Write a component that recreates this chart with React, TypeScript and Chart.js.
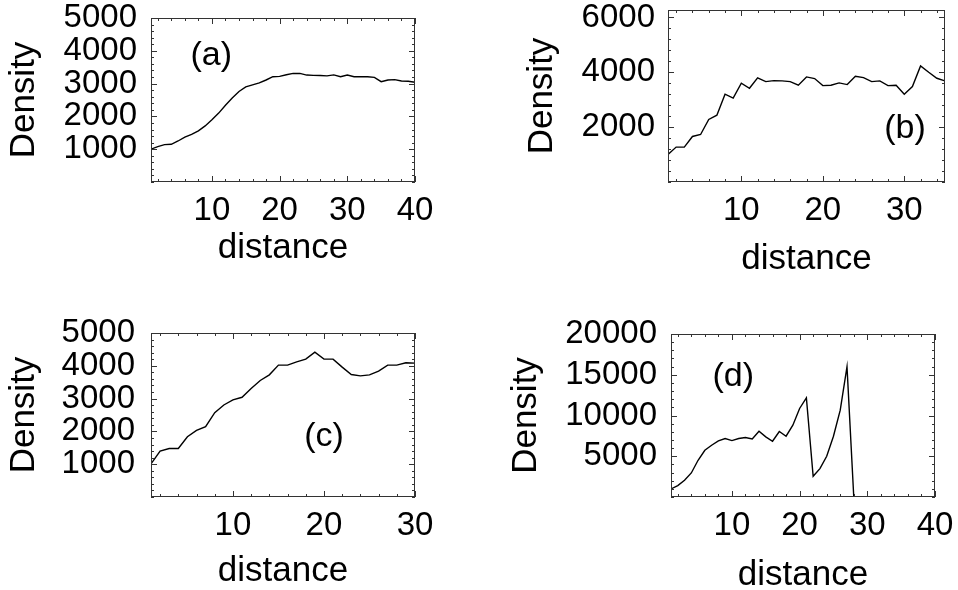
import React, { useEffect, useRef } from "react";
import { Chart, registerables } from "chart.js";
Chart.register(...registerables);

// ---------- data ----------
const distA = [1, 2, 3, 4, 5, 6, 7, 8, 9, 10, 11, 12, 13, 14, 15, 16, 17, 18, 19, 20, 21, 22, 23, 24, 25, 26, 27, 28, 29, 30, 31, 32, 33, 34, 35, 36, 37, 38, 39, 40];
const densityA = [1000, 1080, 1140, 1150, 1250, 1370, 1450, 1560, 1710, 1900, 2100, 2340, 2560, 2760, 2900, 2960, 3020, 3110, 3210, 3220, 3270, 3310, 3310, 3260, 3250, 3245, 3235, 3265, 3210, 3260, 3210, 3210, 3210, 3190, 3060, 3110, 3120, 3080, 3070, 3040];

const distB = [1, 2, 3, 4, 5, 6, 7, 8, 9, 10, 11, 12, 13, 14, 15, 16, 17, 18, 19, 20, 21, 22, 23, 24, 25, 26, 27, 28, 29, 30, 31, 32, 33, 34, 35];
const densityB = [1006, 1273, 1273, 1660, 1733, 2279, 2436, 3200, 3055, 3600, 3418, 3794, 3660, 3697, 3685, 3660, 3527, 3830, 3770, 3515, 3527, 3612, 3551, 3854, 3806, 3660, 3685, 3515, 3527, 3200, 3479, 4230, 4000, 3782, 3685];

const distC = [1, 2, 3, 4, 5, 6, 7, 8, 9, 10, 11, 12, 13, 14, 15, 16, 17, 18, 19, 20, 21, 22, 23, 24, 25, 26, 27, 28, 29, 30];
const densityC = [1010, 1398, 1480, 1480, 1837, 2030, 2143, 2571, 2806, 2959, 3041, 3306, 3551, 3724, 4020, 4020, 4122, 4204, 4418, 4204, 4204, 3959, 3735, 3694, 3724, 3837, 4020, 4020, 4092, 4082];

const distD = [1, 2, 3, 4, 5, 6, 7, 8, 9, 10, 11, 12, 13, 14, 15, 16, 17, 18, 19, 20, 21, 22, 23, 24, 25, 26, 27, 28, 29, 30, 31, 32, 33, 34, 35, 36, 37, 38, 39, 40];
const densityD = [984, 1393, 2049, 2950, 4508, 5737, 6352, 6885, 7172, 6926, 7172, 7295, 7131, 8073, 7377, 6844, 8032, 7459, 8811, 10860, 12171, 2541, 3483, 5000, 7459, 10655, 15982, 0, 0, 0, 0, 0, 0, 0, 0, 0, 0, 0, 0, 0];

const xTicksA = [10, 20, 30, 40];
const xTicksB = [10, 20, 30];
const xTicksC = [10, 20, 30];
const xTicksD = [10, 20, 30, 40];

const yTicksA = [1000, 2000, 3000, 4000, 5000];
const yTicksB = [2000, 4000, 6000];
const yTicksC = [1000, 2000, 3000, 4000, 5000];
const yTicksD = [5000, 10000, 15000, 20000];

const panelLabels = ["(a)", "(b)", "(c)", "(d)"];
const labelPosA = [9.9, 3840];
const labelPosB = [30.1, 1930];
const labelPosC = [20.0, 1830];
const labelPosD = [10.2, 14720];

const xTitle = "distance";
const yTitle = "Density";

// ---------- drawing helpers ----------
const FONT = "'Liberation Sans', Arial, Helvetica, sans-serif";

const framePlugin = {
  id: "frame",
  afterDatasetsDraw(chart: any, _args: any, opts: any) {
    const { ctx, chartArea } = chart;
    const { left, right, top, bottom } = chartArea;
    const xs = chart.scales.x;
    const ys = chart.scales.y;
    ctx.save();
    ctx.strokeStyle = "#333";
    ctx.lineWidth = 1;
    ctx.strokeRect(left + 0.5, top + 0.5, right - left - 1, bottom - top - 1);

    const drawTicks = (scale: any, step: number, majors: number[], horiz: boolean) => {
      const start = Math.ceil(scale.min / step) * step;
      for (let v = start; v <= scale.max + 1e-9; v += step) {
        const major = majors.indexOf(v) >= 0;
        const len = major ? 6 : 3;
        const p = Math.round(scale.getPixelForValue(v)) + 0.5;
        ctx.beginPath();
        if (horiz) {
          ctx.moveTo(p, bottom);
          ctx.lineTo(p, bottom - len);
          ctx.moveTo(p, top);
          ctx.lineTo(p, top + len);
        } else {
          ctx.moveTo(left, p);
          ctx.lineTo(left + len, p);
          ctx.moveTo(right, p);
          ctx.lineTo(right - len, p);
        }
        ctx.stroke();
      }
    };
    drawTicks(xs, opts.xMinor, opts.xMajor, true);
    drawTicks(ys, opts.yMinor, opts.yMajor, false);

    ctx.fillStyle = "#000";
    ctx.font = `34px ${FONT}`;
    ctx.textAlign = "center";
    ctx.textBaseline = "middle";
    ctx.fillText(opts.label, xs.getPixelForValue(opts.labelPos[0]), ys.getPixelForValue(opts.labelPos[1]));
    ctx.restore();
  },
};

type PanelProps = {
  xs: number[];
  ys: number[];
  xTicks: number[];
  yTicks: number[];
  xMax: number;
  yMax: number;
  xMinor: number;
  yMinor: number;
  label: string;
  labelPos: number[];
  posLeft: number;
  posTop: number;
  padTop: number;
  padRight: number;
  yAxisW: number;
  xAxisH: number;
  yTickPad: number;
  yTitlePad: number;
  xTitlePad: number;
};

function Panel(p: PanelProps) {
  const ref = useRef<HTMLCanvasElement>(null);
  useEffect(() => {
    if (!ref.current) return;
    const tickFont = { family: FONT, size: 33, lineHeight: 1 };
    const titleFont = { family: FONT, size: 35, lineHeight: 1 };
    const chart = new Chart(ref.current, {
      type: "line",
      data: {
        datasets: [
          {
            data: p.xs.map((x, i) => ({ x, y: p.ys[i] })),
            borderColor: "#000",
            borderWidth: 1.4,
            pointRadius: 0,
            tension: 0,
            fill: false,
          },
        ],
      },
      options: {
        animation: false,
        responsive: false,
        events: [],
        layout: { padding: { top: p.padTop, right: p.padRight, left: 0, bottom: 0 } },
        plugins: {
          legend: { display: false },
          tooltip: { enabled: false },
          frame: {
            xMinor: p.xMinor,
            yMinor: p.yMinor,
            xMajor: p.xTicks,
            yMajor: p.yTicks,
            label: p.label,
            labelPos: p.labelPos,
          },
        } as any,
        scales: {
          x: {
            type: "linear",
            min: 1,
            max: p.xMax,
            afterBuildTicks: (s: any) => {
              s.ticks = p.xTicks.map((v) => ({ value: v }));
            },
            afterFit: (s: any) => {
              s.height = p.xAxisH;
              s.paddingLeft = 0;
              s.paddingRight = 0;
            },
            grid: { display: false, drawTicks: false },
            border: { display: false },
            ticks: {
              font: tickFont,
              color: "#000",
              padding: 12,
              maxRotation: 0,
              autoSkip: false,
              callback: (v: any) => String(v),
            },
            title: {
              display: true,
              text: xTitle,
              font: titleFont,
              color: "#000",
              padding: { top: 0, bottom: p.xTitlePad },
            },
          },
          y: {
            type: "linear",
            min: 0,
            max: p.yMax,
            afterBuildTicks: (s: any) => {
              s.ticks = p.yTicks.map((v) => ({ value: v }));
            },
            afterFit: (s: any) => {
              s.width = p.yAxisW;
              s.paddingTop = 0;
              s.paddingBottom = 0;
            },
            grid: { display: false, drawTicks: false },
            border: { display: false },
            ticks: {
              font: tickFont,
              color: "#000",
              padding: p.yTickPad,
              autoSkip: false,
              callback: (v: any) => String(v),
            },
            title: {
              display: true,
              text: yTitle,
              font: titleFont,
              color: "#000",
              padding: { top: p.yTitlePad, bottom: 0 },
            },
          },
        },
      } as any,
      plugins: [framePlugin],
    });
    return () => chart.destroy();
  }, []);
  return (
    <canvas
      ref={ref}
      width={479}
      height={295}
      style={{ position: "absolute", left: p.posLeft, top: p.posTop, width: 479, height: 295 }}
    />
  );
}

export default function App() {
  return (
    <div style={{ position: "fixed", left: 0, top: 0, width: 958, height: 590, background: "#fff", overflow: "hidden" }}>
      <Panel
        xs={distA} ys={densityA} xTicks={xTicksA} yTicks={yTicksA} xMax={40} yMax={5000}
        xMinor={2} yMinor={200} label={panelLabels[0]} labelPos={labelPosA}
        posLeft={0} posTop={0} padTop={18} padRight={64} yAxisW={151} xAxisH={113}
        yTickPad={14} yTitlePad={7} xTitlePad={29}
      />
      <Panel
        xs={distB} ys={densityB} xTicks={xTicksB} yTicks={yTicksB} xMax={35} yMax={6270}
        xMinor={2} yMinor={400} label={panelLabels[1]} labelPos={labelPosB}
        posLeft={479} posTop={0} padTop={10} padRight={13} yAxisW={189} xAxisH={113}
        yTickPad={13} yTitlePad={46} xTitlePad={18}
      />
      <Panel
        xs={distC} ys={densityC} xTicks={xTicksC} yTicks={yTicksC} xMax={30} yMax={5000}
        xMinor={2} yMinor={200} label={panelLabels[2]} labelPos={labelPosC}
        posLeft={0} posTop={295} padTop={38} padRight={64} yAxisW={151} xAxisH={93}
        yTickPad={16} yTitlePad={7} xTitlePad={1}
      />
      <Panel
        xs={distD} ys={densityD} xTicks={xTicksD} yTicks={yTicksD} xMax={40} yMax={20000}
        xMinor={2} yMinor={1000} label={panelLabels[3]} labelPos={labelPosD}
        posLeft={479} posTop={295} padTop={39} padRight={23} yAxisW={192} xAxisH={93}
        yTickPad={14} yTitlePad={30} xTitlePad={-3}
      />
    </div>
  );
}
